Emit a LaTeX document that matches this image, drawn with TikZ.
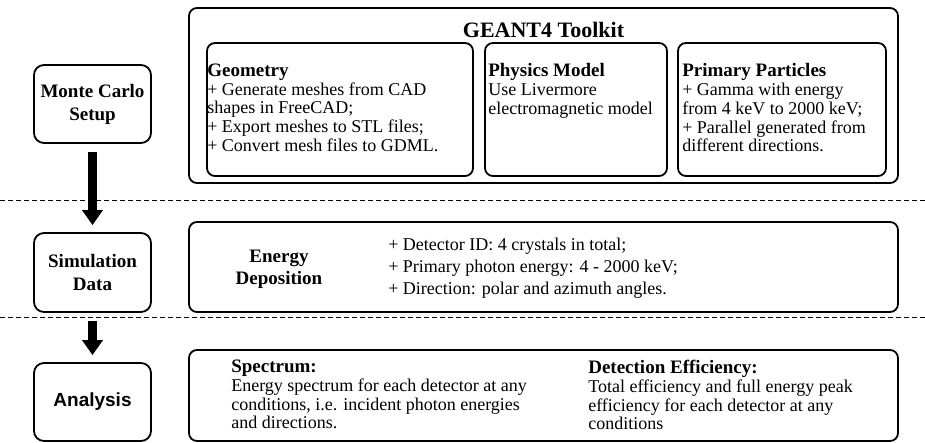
\documentclass[tikz,border=0pt]{standalone}
\usepackage{fontspec}
\setmainfont{Liberation Serif}
\newfontfamily\sansbold{Liberation Sans}
\usetikzlibrary{arrows.meta,positioning}
\newcommand\boxhead[1]{{\fontsize{19pt}{18.7pt}\selectfont\bfseries #1}}

\begin{document}
\begin{tikzpicture}[x=1pt,y=-1pt]
  \tikzset{
    stagebox/.style={draw, line width=1.8pt, rounded corners=10pt, minimum width=117pt, minimum height=78pt, align=center, inner sep=0pt, font=\fontsize{19pt}{23pt}\selectfont\bfseries},
    panel/.style={draw, line width=1.8pt, rounded corners=8pt, inner sep=0pt},
    body/.style={anchor=north west, align=left, inner sep=0pt, font=\fontsize{18pt}{18.7pt}\selectfont},
    flow/.style={-{Triangle[length=15pt,width=20pt]}, line width=8.5pt, shorten <=8pt, shorten >=7pt},
    divider/.style={line width=0.9pt, dash pattern=on 5pt off 3pt}
  }
  \useasboundingbox (0,0) rectangle (925,443);

  % stages on the left
  \node[stagebox] (mc) at (92.5,104) {Monte Carlo\\Setup};
  \node[stagebox, minimum height=79pt] (sim) at (92.5,272.5) {Simulation\\Data};
  \node[stagebox, font=\fontsize{19pt}{23pt}\selectfont\sansbold\bfseries] (ana) at (92.5,402) {Analysis};

  % GEANT4 panel
  \node[panel, minimum width=709pt, minimum height=175pt] (geant) at (543.5,95.5) {};
  \node[font=\fontsize{22pt}{26pt}\selectfont\bfseries] (geanttitle) at (543.5,30) {GEANT4 Toolkit};
  \node[panel, minimum width=266pt, minimum height=133pt] (geo) at (340,109.5) {};
  \node[panel, minimum width=182pt, minimum height=133pt] (phys) at (576,109.5) {};
  \node[panel, minimum width=208pt, minimum height=133pt] (prim) at (782,109.5) {};
  \node[body, below right=21.5pt and 1pt of geo.north west] (geotext) {\boxhead{Geometry}\\+ Generate meshes from CAD\\shapes in FreeCAD;\\+ Export meshes to STL files;\\+ Convert mesh files to GDML.};
  \node[body, below right=21.5pt and 4pt of phys.north west] (phystext) {\boxhead{Physics Model}\\Use Livermore\\electromagnetic model};
  \node[body, below right=21.5pt and 5pt of prim.north west] (primtext) {\boxhead{Primary Particles}\\+ Gamma with energy\\from 4 keV to 2000 keV;\\+ Parallel generated from\\different directions.};

  % simulation data panel
  \node[panel, minimum width=709pt, minimum height=90pt] (edep) at (543.5,267) {};
  \node[align=center, font=\fontsize{19pt}{22pt}\selectfont\bfseries] (edeptitle) at (279,269) {Energy\\Deposition};
  \node[body, font=\fontsize{18pt}{22pt}\selectfont, below right=17pt and 200pt of edep.north west] (edeptext) {+ Detector ID: 4 crystals in total;\\+ Primary photon energy: 4 - 2000 keV;\\+ Direction: polar and azimuth angles.};

  % analysis panel
  \node[panel, minimum width=709pt, minimum height=91pt] (result) at (543.5,395.5) {};
  \node[body, below right=11pt and 43pt of result.north west] (spectext) {\boxhead{Spectrum:}\\Energy spectrum for each detector at any\\conditions, i.e. incident photon energies\\and directions.};
  \node[body, below right=11pt and 400pt of result.north west] (efftext) {\boxhead{Detection Efficiency:}\\Total efficiency and full energy peak\\efficiency for each detector at any\\conditions};

  % dividers
  \coordinate (d1l) at (0,200);  \coordinate (d1r) at (925,200);
  \coordinate (d2l) at (0,317);  \coordinate (d2r) at (925,317);
  \draw[divider] (d1l) -- (d1r);
  \draw[divider] (d2l) -- (d2r);

  % flow
  \draw[flow] (mc) -- (sim);
  \draw[flow] (sim) -- (ana);
\end{tikzpicture}
\end{document}
